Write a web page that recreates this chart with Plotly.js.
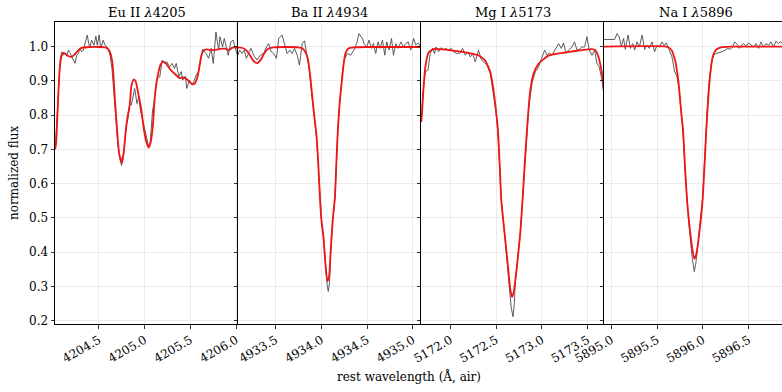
<!DOCTYPE html>
<html>
<head>
<meta charset="utf-8">
<script src="https://cdn.plot.ly/plotly-3.0.1.min.js"></script>
<style>
  html, body { margin: 0; padding: 0; background: #ffffff; overflow: hidden; }
  #chart { width: 790px; height: 392px; }
</style>
</head>
<body>
<div id="chart"></div>
<script>
// ---- Eu II 4205 ----
const euObsWave = [4204.022,4204.035,4204.048,4204.062,4204.078,4204.095,4204.112,4204.130,4204.148,4204.166,4204.185,4204.203,4204.220,4204.239,4204.257,4204.275,4204.293,4204.311,4204.329,4204.348,4204.373,4204.388,4204.402,4204.420,4204.446,4204.467,4204.482,4204.503,4204.518,4204.532,4204.547,4204.565,4204.584,4204.605,4204.625,4204.645,4204.665,4204.685,4204.705,4204.725,4204.747,4204.765,4204.785,4204.800,4204.818,4204.835,4204.855,4204.872,4204.891,4204.916,4204.937,4204.953,4204.974,4204.995,4205.020,4205.045,4205.060,4205.075,4205.087,4205.100,4205.130,4205.150,4205.165,4205.192,4205.217,4205.242,4205.272,4205.301,4205.326,4205.345,4205.373,4205.399,4205.416,4205.446,4205.460,4205.489,4205.518,4205.543,4205.562,4205.590,4205.616,4205.634,4205.671,4205.699,4205.725,4205.750,4205.779,4205.808,4205.823,4205.851,4205.870,4205.888,4205.913,4205.942,4205.967,4205.986,4206.014];
const euObsFlux = [0.700,0.760,0.850,0.920,0.965,0.985,0.975,0.980,0.972,0.990,0.982,0.970,0.962,0.951,0.975,0.980,0.995,0.985,0.990,1.009,1.034,1.010,0.999,1.019,1.004,1.031,1.004,1.034,0.999,1.005,1.019,1.005,1.001,0.990,0.970,0.930,0.850,0.775,0.720,0.680,0.653,0.670,0.725,0.770,0.790,0.830,0.830,0.850,0.878,0.834,0.854,0.815,0.790,0.760,0.730,0.706,0.720,0.780,0.815,0.830,0.902,0.910,0.912,0.961,0.951,0.956,0.941,0.951,0.936,0.951,0.912,0.927,0.902,0.914,0.878,0.902,0.888,0.902,0.917,0.927,0.961,0.992,0.980,0.966,0.995,0.951,1.043,0.990,1.029,0.999,1.024,1.004,0.975,1.014,1.019,0.999,0.975];
const euModelWave = [4204.022,4204.033,4204.045,4204.058,4204.070,4204.085,4204.100,4204.115,4204.140,4204.170,4204.200,4204.230,4204.260,4204.290,4204.320,4204.400,4204.500,4204.570,4204.600,4204.620,4204.649,4204.674,4204.700,4204.720,4204.747,4204.770,4204.790,4204.810,4204.837,4204.855,4204.880,4204.900,4204.916,4204.940,4204.964,4204.992,4205.018,4205.043,4205.060,4205.075,4205.090,4205.110,4205.130,4205.150,4205.175,4205.200,4205.230,4205.260,4205.300,4205.340,4205.380,4205.420,4205.460,4205.500,4205.520,4205.550,4205.580,4205.600,4205.620,4205.640,4205.680,4205.720,4205.760,4205.800,4205.840,4205.880,4205.920,4205.960,4206.000,4206.020];
const euModelFlux = [0.700,0.720,0.790,0.870,0.930,0.965,0.978,0.982,0.978,0.972,0.970,0.976,0.985,0.993,0.997,0.999,0.999,0.998,0.993,0.985,0.950,0.850,0.750,0.690,0.662,0.690,0.745,0.790,0.830,0.885,0.904,0.900,0.883,0.850,0.815,0.757,0.722,0.705,0.715,0.735,0.770,0.850,0.895,0.925,0.948,0.956,0.952,0.940,0.928,0.918,0.908,0.910,0.905,0.895,0.890,0.893,0.915,0.945,0.975,0.988,0.992,0.990,0.990,0.992,0.994,0.994,0.990,0.997,0.998,0.995];

// ---- Ba II 4934 ----
const baObsWave = [4933.090,4933.107,4933.134,4933.159,4933.181,4933.206,4933.232,4933.261,4933.298,4933.334,4933.371,4933.400,4933.425,4933.452,4933.480,4933.510,4933.535,4933.572,4933.598,4933.627,4933.656,4933.682,4933.707,4933.737,4933.762,4933.792,4933.817,4933.846,4933.870,4933.901,4933.927,4933.948,4933.967,4933.985,4934.003,4934.022,4934.047,4934.066,4934.077,4934.090,4934.102,4934.124,4934.149,4934.168,4934.182,4934.201,4934.220,4934.235,4934.250,4934.285,4934.321,4934.357,4934.387,4934.412,4934.450,4934.467,4934.497,4934.522,4934.548,4934.570,4934.595,4934.621,4934.643,4934.669,4934.694,4934.716,4934.741,4934.768,4934.789,4934.815,4934.840,4934.870,4934.899,4934.924,4934.950,4934.979,4935.009,4935.034,4935.059,4935.089];
const baObsFlux = [0.975,0.990,0.980,0.990,0.966,0.980,0.995,0.975,0.961,0.975,0.980,0.999,1.009,0.985,0.980,0.966,1.024,1.034,1.004,0.980,0.990,0.980,0.995,0.975,0.946,1.009,1.017,0.966,0.930,0.850,0.785,0.735,0.655,0.555,0.490,0.450,0.360,0.300,0.285,0.310,0.390,0.485,0.555,0.680,0.760,0.835,0.900,0.936,0.961,0.980,0.975,0.990,1.009,1.038,1.024,1.009,0.999,1.019,0.995,1.009,0.980,1.014,0.995,1.019,0.975,1.014,0.990,1.024,0.975,1.009,0.995,1.014,0.999,1.009,1.014,0.990,1.024,1.004,1.011,0.999];
const baModelWave = [4933.090,4933.140,4933.180,4933.220,4933.260,4933.300,4933.340,4933.380,4933.420,4933.480,4933.600,4933.750,4933.800,4933.830,4933.853,4933.877,4933.901,4933.927,4933.948,4933.967,4933.985,4934.003,4934.022,4934.047,4934.066,4934.086,4934.102,4934.124,4934.149,4934.168,4934.182,4934.201,4934.223,4934.245,4934.266,4934.300,4934.350,4934.500,4934.800,4935.100];
const baModelFlux = [0.998,0.996,0.990,0.975,0.958,0.952,0.962,0.982,0.994,0.998,0.999,0.998,0.994,0.982,0.965,0.920,0.855,0.790,0.740,0.660,0.560,0.490,0.450,0.360,0.315,0.330,0.400,0.490,0.560,0.680,0.760,0.835,0.895,0.950,0.982,0.995,0.998,0.999,0.999,0.999];

// ---- Mg I 5173 ----
const mgObsWave = [5171.683,5171.700,5171.727,5171.756,5171.781,5171.807,5171.828,5171.844,5171.872,5171.902,5171.927,5171.953,5171.981,5172.011,5172.036,5172.073,5172.109,5172.134,5172.164,5172.193,5172.219,5172.244,5172.273,5172.309,5172.339,5172.364,5172.401,5172.437,5172.470,5172.500,5172.520,5172.540,5172.557,5172.593,5172.620,5172.645,5172.665,5172.685,5172.700,5172.710,5172.729,5172.765,5172.790,5172.814,5172.838,5172.860,5172.893,5172.929,5172.965,5173.002,5173.031,5173.057,5173.082,5173.111,5173.140,5173.166,5173.184,5173.213,5173.238,5173.264,5173.293,5173.330,5173.358,5173.385,5173.410,5173.439,5173.468,5173.494,5173.519,5173.549,5173.577,5173.603,5173.628,5173.658,5173.686];
const mgObsFlux = [0.790,0.860,0.927,0.931,0.980,0.995,0.980,0.999,0.985,0.997,0.990,0.995,0.990,0.995,0.985,0.980,0.982,0.995,0.975,0.985,0.970,0.980,0.956,0.990,0.962,0.956,0.946,0.922,0.870,0.810,0.750,0.650,0.553,0.456,0.380,0.310,0.240,0.211,0.250,0.310,0.360,0.456,0.553,0.660,0.750,0.830,0.893,0.927,0.941,0.966,0.990,0.975,0.982,0.975,0.990,1.001,1.009,0.995,1.011,0.980,0.990,0.999,1.014,0.990,0.992,0.999,0.999,1.029,0.990,0.975,0.990,0.951,0.941,0.902,0.844];
const mgModelWave = [5171.683,5171.691,5171.705,5171.727,5171.763,5171.817,5171.981,5172.164,5172.309,5172.383,5172.437,5172.473,5172.499,5172.521,5172.541,5172.557,5172.593,5172.630,5172.656,5172.675,5172.694,5172.729,5172.765,5172.790,5172.814,5172.838,5172.874,5172.910,5172.965,5173.074,5173.257,5173.439,5173.549,5173.585,5173.621,5173.658,5173.683];
const mgModelFlux = [0.780,0.805,0.870,0.940,0.983,0.993,0.990,0.983,0.974,0.959,0.926,0.872,0.814,0.757,0.650,0.553,0.456,0.360,0.290,0.269,0.285,0.360,0.456,0.553,0.660,0.757,0.872,0.921,0.950,0.974,0.983,0.990,0.993,0.990,0.969,0.921,0.865];

// ---- Na I 5896 ----
const naObsWave = [5894.920,5894.960,5895.008,5895.036,5895.062,5895.087,5895.109,5895.134,5895.153,5895.183,5895.208,5895.233,5895.255,5895.281,5895.306,5895.336,5895.364,5895.390,5895.415,5895.445,5895.473,5895.499,5895.525,5895.554,5895.579,5895.601,5895.626,5895.663,5895.692,5895.718,5895.743,5895.765,5895.784,5895.805,5895.827,5895.845,5895.863,5895.885,5895.907,5895.925,5895.945,5895.962,5895.980,5895.998,5896.020,5896.038,5896.055,5896.071,5896.090,5896.107,5896.118,5896.144,5896.173,5896.210,5896.246,5896.275,5896.301,5896.326,5896.348,5896.374,5896.399,5896.421,5896.446,5896.472,5896.501,5896.530,5896.555,5896.581,5896.610,5896.636,5896.664,5896.690,5896.719,5896.745,5896.773,5896.799,5896.828,5896.847,5896.869,5896.900,5896.920];
const naObsFlux = [1.021,1.021,1.021,1.021,1.038,1.028,1.001,1.024,0.992,1.034,0.995,1.009,0.990,1.014,0.999,1.034,0.992,1.004,0.995,1.014,0.985,1.004,0.999,1.014,1.004,1.011,0.995,0.970,0.927,0.912,0.873,0.800,0.745,0.645,0.548,0.490,0.440,0.380,0.343,0.370,0.420,0.460,0.500,0.560,0.670,0.770,0.850,0.900,0.945,0.965,0.975,0.980,0.982,0.985,0.990,0.995,0.992,0.999,1.014,1.007,0.995,1.004,1.009,1.001,1.011,1.004,0.999,1.009,0.995,1.014,0.999,1.009,1.004,1.014,0.999,1.016,1.009,1.014,1.009,1.005,1.010];
const naModelWave = [5894.920,5895.600,5895.640,5895.663,5895.680,5895.699,5895.720,5895.736,5895.750,5895.765,5895.784,5895.805,5895.827,5895.845,5895.863,5895.885,5895.907,5895.925,5895.945,5895.962,5895.980,5895.998,5896.020,5896.038,5896.055,5896.071,5896.090,5896.107,5896.130,5896.155,5896.200,5896.300,5896.920];
const naModelFlux = [1.000,1.000,0.995,0.988,0.975,0.959,0.925,0.892,0.850,0.805,0.757,0.650,0.553,0.500,0.456,0.410,0.380,0.390,0.420,0.456,0.500,0.553,0.660,0.757,0.830,0.892,0.940,0.969,0.985,0.993,0.998,1.000,1.000];

const panelTitles = ['Eu II <i>λ</i>4205', 'Ba II <i>λ</i>4934', 'Mg I <i>λ</i>5173', 'Na I <i>λ</i>5896'];
const panelRanges = [[4204.02, 4206.02], [4933.09, 4935.09], [5171.68, 5173.68], [5894.92, 5896.92]];
const yTickVals = [0.2, 0.3, 0.4, 0.5, 0.6, 0.7, 0.8, 0.9, 1.0];
const yTickText = ['0.2', '0.3', '0.4', '0.5', '0.6', '0.7', '0.8', '0.9', '1.0'];
const xLabel = 'rest wavelength (Å, air)';
const yLabel = 'normalized flux';

const panels = [
  [euObsWave, euObsFlux, euModelWave, euModelFlux],
  [baObsWave, baObsFlux, baModelWave, baModelFlux],
  [mgObsWave, mgObsFlux, mgModelWave, mgModelFlux],
  [naObsWave, naObsFlux, naModelWave, naModelFlux]
];

const FONT = 'DejaVu Serif, Liberation Serif, serif';
const traces = [];
const layout = {
  width: 790, height: 392,
  margin: {l: 55, r: 3, t: 22, b: 68},
  paper_bgcolor: '#ffffff', plot_bgcolor: '#ffffff',
  showlegend: false,
  font: {family: FONT, size: 12, color: '#000000'},
  annotations: []
};

panels.forEach((p, i) => {
  const n = i === 0 ? '' : String(i + 1);
  const xa = 'x' + n, ya = 'y' + n;
  traces.push({x: p[0], y: p[1], xaxis: xa, yaxis: ya, type: 'scatter', mode: 'lines',
    line: {color: '#4a4a4a', width: 0.9}, hoverinfo: 'skip'});
  traces.push({x: p[2], y: p[3], xaxis: xa, yaxis: ya, type: 'scatter', mode: 'lines',
    line: {color: 'rgb(240,22,22)', width: 1.8, shape: 'spline', smoothing: 0.5}, hoverinfo: 'skip'});

  const d0 = i * 0.25, d1 = (i + 1) * 0.25;
  layout['xaxis' + n] = {
    domain: [d0, d1], anchor: ya, range: panelRanges[i],
    tickmode: 'linear', tick0: 0, dtick: 0.5, tickformat: '.1f', tickangle: -30,
    ticks: 'outside', ticklen: 3.5, tickwidth: 0.8, tickcolor: '#000',
    showline: true, linecolor: '#000', linewidth: 1, mirror: true,
    showgrid: true, gridcolor: '#e6e6e6', gridwidth: 0.8, zeroline: false,
    tickfont: {family: FONT, size: 12, color: '#000'}
  };
  // each panel's left spine doubles as the right edge of the panel before it
  layout['yaxis' + n] = {
    domain: [0, 1], anchor: xa, range: [0.19, 1.072],
    tickmode: 'array', tickvals: yTickVals, ticktext: yTickText,
    showticklabels: i === 0,
    ticks: 'outside', ticklen: 3.5, tickwidth: 0.8, tickcolor: '#000',
    showline: true, linecolor: '#000', linewidth: 1, mirror: false,
    showgrid: true, gridcolor: '#e6e6e6', gridwidth: 0.8, zeroline: false,
    tickfont: {family: FONT, size: 12, color: '#000'}
  };
  layout.annotations.push({
    text: panelTitles[i], xref: 'paper', yref: 'paper',
    x: (d0 + d1) / 2, y: 1.033, xanchor: 'center', yanchor: 'middle',
    showarrow: false, font: {family: FONT, size: 13, color: '#000'}
  });
});

layout.annotations.push({
  text: xLabel, xref: 'paper', yref: 'paper', x: 0.4836, y: -0.175,
  xanchor: 'center', yanchor: 'middle', showarrow: false,
  font: {family: FONT, size: 12, color: '#000'}
});
layout.annotations.push({
  text: yLabel, xref: 'paper', yref: 'paper', x: -0.056, y: 0.5, textangle: -90,
  xanchor: 'center', yanchor: 'middle', showarrow: false,
  font: {family: FONT, size: 12, color: '#000'}
});

Plotly.newPlot('chart', traces, layout, {displayModeBar: false, staticPlot: true});
</script>
</body>
</html>
